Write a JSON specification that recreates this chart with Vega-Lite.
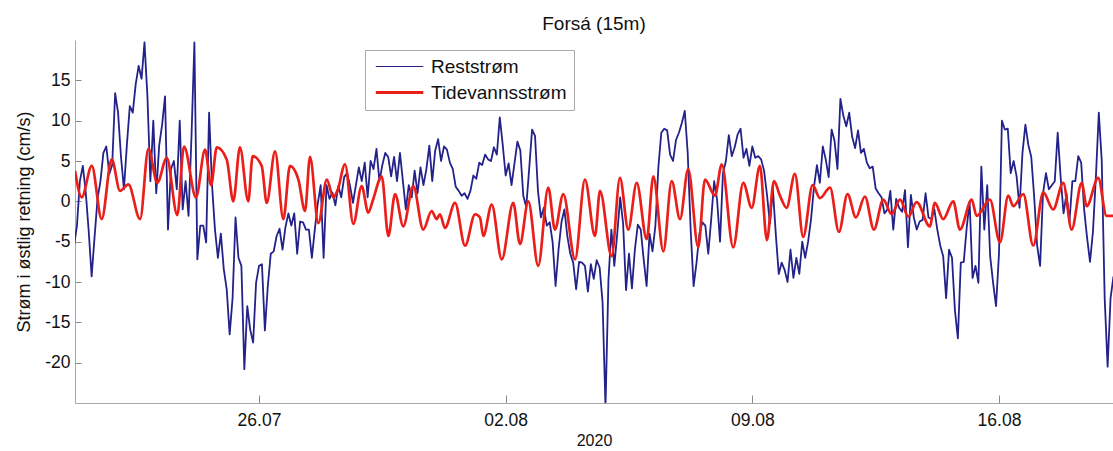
{
  "$schema": "https://vega.github.io/schema/vega-lite/v6.json",
  "width": 1038,
  "height": 363,
  "autosize": {"type": "none"},
  "padding": {"left": 75, "top": 40, "right": 0, "bottom": 48},
  "background": "white",
  "config": {"view": {"stroke": null}, "font": "Liberation Sans"},
  "title": {"text": "Forsá (15m)", "fontSize": 19, "fontWeight": "normal", "font": "Liberation Sans", "color": "#111", "anchor": "middle", "baseline": "alphabetic", "offset": 10, "dy": 19},
  "datasets": {
    "res": [
      {"t": "2020-07-20T18:00", "v": -5.5}, {"t": "2020-07-20T20:00", "v": -3}, {"t": "2020-07-20T22:00", "v": 2.5},
      {"t": "2020-07-21T00:00", "v": 4.4}, {"t": "2020-07-21T02:00", "v": 1.1}, {"t": "2020-07-21T04:00", "v": -3.7}, {"t": "2020-07-21T06:00", "v": -9.3}, {"t": "2020-07-21T08:00", "v": -4.4}, {"t": "2020-07-21T10:00", "v": 0.3}, {"t": "2020-07-21T12:00", "v": 2.5}, {"t": "2020-07-21T14:00", "v": 6.0}, {"t": "2020-07-21T16:00", "v": 6.8}, {"t": "2020-07-21T18:00", "v": 3.4}, {"t": "2020-07-21T20:00", "v": 4.5}, {"t": "2020-07-21T22:00", "v": 13.4},
      {"t": "2020-07-22T00:00", "v": 11.0}, {"t": "2020-07-22T02:00", "v": 5.5}, {"t": "2020-07-22T04:00", "v": 1.5}, {"t": "2020-07-22T06:00", "v": 7.0}, {"t": "2020-07-22T08:00", "v": 11.8}, {"t": "2020-07-22T10:00", "v": 11.0}, {"t": "2020-07-22T12:00", "v": 14.5}, {"t": "2020-07-22T14:00", "v": 16.8}, {"t": "2020-07-22T16:00", "v": 15.2}, {"t": "2020-07-22T18:00", "v": 19.7}, {"t": "2020-07-22T20:00", "v": 13.0}, {"t": "2020-07-22T22:00", "v": 2.5},
      {"t": "2020-07-23T00:00", "v": 10.0}, {"t": "2020-07-23T02:00", "v": 1.0}, {"t": "2020-07-23T04:00", "v": 6.9}, {"t": "2020-07-23T06:00", "v": 9.5}, {"t": "2020-07-23T08:00", "v": 13.0}, {"t": "2020-07-23T10:00", "v": -3.5}, {"t": "2020-07-23T12:00", "v": 4.0}, {"t": "2020-07-23T14:00", "v": 5.0}, {"t": "2020-07-23T16:00", "v": 1.5}, {"t": "2020-07-23T18:00", "v": 10.0}, {"t": "2020-07-23T20:00", "v": -1.0}, {"t": "2020-07-23T22:00", "v": 2.5},
      {"t": "2020-07-24T00:00", "v": -1.8}, {"t": "2020-07-24T02:00", "v": 8.0}, {"t": "2020-07-24T04:00", "v": 19.7}, {"t": "2020-07-24T06:00", "v": -7.2}, {"t": "2020-07-24T08:00", "v": -3.0}, {"t": "2020-07-24T10:00", "v": -3.0}, {"t": "2020-07-24T12:00", "v": -5.1}, {"t": "2020-07-24T14:00", "v": 11.0}, {"t": "2020-07-24T16:00", "v": 2.0}, {"t": "2020-07-24T18:00", "v": -3.5}, {"t": "2020-07-24T20:00", "v": -7.0}, {"t": "2020-07-24T22:00", "v": -4.0},
      {"t": "2020-07-25T00:00", "v": -8.4}, {"t": "2020-07-25T02:00", "v": -10.9}, {"t": "2020-07-25T04:00", "v": -16.5}, {"t": "2020-07-25T06:00", "v": -12.0}, {"t": "2020-07-25T08:00", "v": -2.0}, {"t": "2020-07-25T10:00", "v": -7.0}, {"t": "2020-07-25T12:00", "v": -8.0}, {"t": "2020-07-25T14:00", "v": -20.8}, {"t": "2020-07-25T16:00", "v": -13.0}, {"t": "2020-07-25T18:00", "v": -15.9}, {"t": "2020-07-25T20:00", "v": -17.5}, {"t": "2020-07-25T22:00", "v": -10.1},
      {"t": "2020-07-26T00:00", "v": -8.0}, {"t": "2020-07-26T02:00", "v": -7.8}, {"t": "2020-07-26T04:00", "v": -16.0}, {"t": "2020-07-26T06:00", "v": -10.5}, {"t": "2020-07-26T08:00", "v": -6.5}, {"t": "2020-07-26T10:00", "v": -6.2}, {"t": "2020-07-26T12:00", "v": -4.3}, {"t": "2020-07-26T14:00", "v": -3.4}, {"t": "2020-07-26T16:00", "v": -6.0}, {"t": "2020-07-26T18:00", "v": -3.2}, {"t": "2020-07-26T20:00", "v": -1.5}, {"t": "2020-07-26T22:00", "v": -3.0},
      {"t": "2020-07-27T00:00", "v": -1.5}, {"t": "2020-07-27T02:00", "v": -6.5}, {"t": "2020-07-27T04:00", "v": -2.5}, {"t": "2020-07-27T06:00", "v": -2.6}, {"t": "2020-07-27T08:00", "v": -3.5}, {"t": "2020-07-27T10:00", "v": -3.5}, {"t": "2020-07-27T12:00", "v": -7.0}, {"t": "2020-07-27T14:00", "v": -3.5}, {"t": "2020-07-27T16:00", "v": -0.3}, {"t": "2020-07-27T18:00", "v": 2.0}, {"t": "2020-07-27T20:00", "v": -7.0}, {"t": "2020-07-27T22:00", "v": 2.0},
      {"t": "2020-07-28T00:00", "v": 0.3}, {"t": "2020-07-28T02:00", "v": 1.1}, {"t": "2020-07-28T04:00", "v": -0.5}, {"t": "2020-07-28T06:00", "v": 1.9}, {"t": "2020-07-28T08:00", "v": 0.5}, {"t": "2020-07-28T10:00", "v": 3.0}, {"t": "2020-07-28T12:00", "v": 3.5}, {"t": "2020-07-28T14:00", "v": 1.9}, {"t": "2020-07-28T16:00", "v": -0.2}, {"t": "2020-07-28T18:00", "v": 2.0}, {"t": "2020-07-28T20:00", "v": 4.2}, {"t": "2020-07-28T22:00", "v": 2.5},
      {"t": "2020-07-29T00:00", "v": 4.8}, {"t": "2020-07-29T02:00", "v": 0.5}, {"t": "2020-07-29T04:00", "v": 5.0}, {"t": "2020-07-29T06:00", "v": 4.0}, {"t": "2020-07-29T08:00", "v": 6.5}, {"t": "2020-07-29T10:00", "v": 2.5}, {"t": "2020-07-29T12:00", "v": 4.5}, {"t": "2020-07-29T14:00", "v": 6.0}, {"t": "2020-07-29T16:00", "v": 5.5}, {"t": "2020-07-29T18:00", "v": 3.1}, {"t": "2020-07-29T20:00", "v": 5.5}, {"t": "2020-07-29T22:00", "v": 2.5},
      {"t": "2020-07-30T00:00", "v": 6.0}, {"t": "2020-07-30T02:00", "v": 2.5}, {"t": "2020-07-30T04:00", "v": -1.0}, {"t": "2020-07-30T06:00", "v": 2.0}, {"t": "2020-07-30T08:00", "v": 0.5}, {"t": "2020-07-30T10:00", "v": 3.8}, {"t": "2020-07-30T12:00", "v": 1.0}, {"t": "2020-07-30T14:00", "v": 4.2}, {"t": "2020-07-30T16:00", "v": 2.0}, {"t": "2020-07-30T18:00", "v": 4.0}, {"t": "2020-07-30T20:00", "v": 6.9}, {"t": "2020-07-30T22:00", "v": 2.5},
      {"t": "2020-07-31T00:00", "v": 6.3}, {"t": "2020-07-31T02:00", "v": 7.7}, {"t": "2020-07-31T04:00", "v": 5.0}, {"t": "2020-07-31T06:00", "v": 6.8}, {"t": "2020-07-31T08:00", "v": 6.4}, {"t": "2020-07-31T10:00", "v": 4.8}, {"t": "2020-07-31T12:00", "v": 4.0}, {"t": "2020-07-31T14:00", "v": 1.8}, {"t": "2020-07-31T16:00", "v": 1.3}, {"t": "2020-07-31T18:00", "v": 0.7}, {"t": "2020-07-31T20:00", "v": 1.0}, {"t": "2020-07-31T22:00", "v": 0.3},
      {"t": "2020-08-01T00:00", "v": 1.3}, {"t": "2020-08-01T02:00", "v": 3.2}, {"t": "2020-08-01T04:00", "v": 2.8}, {"t": "2020-08-01T06:00", "v": 4.8}, {"t": "2020-08-01T08:00", "v": 4.5}, {"t": "2020-08-01T10:00", "v": 5.8}, {"t": "2020-08-01T12:00", "v": 5.2}, {"t": "2020-08-01T14:00", "v": 5.0}, {"t": "2020-08-01T16:00", "v": 6.7}, {"t": "2020-08-01T18:00", "v": 5.8}, {"t": "2020-08-01T20:00", "v": 10.4}, {"t": "2020-08-01T22:00", "v": 7.0},
      {"t": "2020-08-02T00:00", "v": 3.2}, {"t": "2020-08-02T02:00", "v": 4.7}, {"t": "2020-08-02T04:00", "v": 2.0}, {"t": "2020-08-02T06:00", "v": 4.7}, {"t": "2020-08-02T08:00", "v": 7.4}, {"t": "2020-08-02T10:00", "v": 6.3}, {"t": "2020-08-02T12:00", "v": 0.7}, {"t": "2020-08-02T14:00", "v": -0.7}, {"t": "2020-08-02T16:00", "v": 4.0}, {"t": "2020-08-02T18:00", "v": 8.9}, {"t": "2020-08-02T20:00", "v": 8.1}, {"t": "2020-08-02T22:00", "v": 1.3},
      {"t": "2020-08-03T00:00", "v": -2.0}, {"t": "2020-08-03T02:00", "v": -0.8}, {"t": "2020-08-03T04:00", "v": -3.0}, {"t": "2020-08-03T06:00", "v": -2.6}, {"t": "2020-08-03T08:00", "v": -5.1}, {"t": "2020-08-03T10:00", "v": -10.5}, {"t": "2020-08-03T12:00", "v": -6.0}, {"t": "2020-08-03T14:00", "v": -2.6}, {"t": "2020-08-03T16:00", "v": -1.0}, {"t": "2020-08-03T18:00", "v": -4.3}, {"t": "2020-08-03T20:00", "v": -6.5}, {"t": "2020-08-03T22:00", "v": -7.6},
      {"t": "2020-08-04T00:00", "v": -10.9}, {"t": "2020-08-04T02:00", "v": -7.5}, {"t": "2020-08-04T04:00", "v": -7.6}, {"t": "2020-08-04T06:00", "v": -8.0}, {"t": "2020-08-04T08:00", "v": -11.2}, {"t": "2020-08-04T10:00", "v": -7.8}, {"t": "2020-08-04T12:00", "v": -9.6}, {"t": "2020-08-04T14:00", "v": -7.3}, {"t": "2020-08-04T16:00", "v": -8.2}, {"t": "2020-08-04T18:00", "v": -12.5}, {"t": "2020-08-04T20:00", "v": -25.5}, {"t": "2020-08-04T22:00", "v": -9.8},
      {"t": "2020-08-05T00:00", "v": -3.5}, {"t": "2020-08-05T02:00", "v": -8.0}, {"t": "2020-08-05T04:00", "v": -4.0}, {"t": "2020-08-05T06:00", "v": 0.5}, {"t": "2020-08-05T08:00", "v": -2.8}, {"t": "2020-08-05T10:00", "v": -11.0}, {"t": "2020-08-05T12:00", "v": -6.5}, {"t": "2020-08-05T14:00", "v": -10.8}, {"t": "2020-08-05T16:00", "v": -6.0}, {"t": "2020-08-05T18:00", "v": -2.9}, {"t": "2020-08-05T20:00", "v": -3.5}, {"t": "2020-08-05T22:00", "v": -7.2},
      {"t": "2020-08-06T00:00", "v": -10.5}, {"t": "2020-08-06T02:00", "v": -4.0}, {"t": "2020-08-06T04:00", "v": -6.2}, {"t": "2020-08-06T06:00", "v": -3.0}, {"t": "2020-08-06T08:00", "v": 4.2}, {"t": "2020-08-06T10:00", "v": 8.5}, {"t": "2020-08-06T12:00", "v": 9.0}, {"t": "2020-08-06T14:00", "v": 8.8}, {"t": "2020-08-06T16:00", "v": 5.8}, {"t": "2020-08-06T18:00", "v": 5.0}, {"t": "2020-08-06T20:00", "v": 7.6}, {"t": "2020-08-06T22:00", "v": 8.5},
      {"t": "2020-08-07T00:00", "v": 9.7}, {"t": "2020-08-07T02:00", "v": 11.2}, {"t": "2020-08-07T04:00", "v": 6.0}, {"t": "2020-08-07T06:00", "v": -3.5}, {"t": "2020-08-07T08:00", "v": -10.5}, {"t": "2020-08-07T10:00", "v": -7.6}, {"t": "2020-08-07T12:00", "v": -4.0}, {"t": "2020-08-07T14:00", "v": -2.6}, {"t": "2020-08-07T16:00", "v": -3.0}, {"t": "2020-08-07T18:00", "v": -6.5}, {"t": "2020-08-07T20:00", "v": -2.2}, {"t": "2020-08-07T22:00", "v": 2.5},
      {"t": "2020-08-08T00:00", "v": 0.2}, {"t": "2020-08-08T02:00", "v": -5.0}, {"t": "2020-08-08T04:00", "v": 3.5}, {"t": "2020-08-08T06:00", "v": 5.0}, {"t": "2020-08-08T08:00", "v": 8.2}, {"t": "2020-08-08T10:00", "v": 5.6}, {"t": "2020-08-08T12:00", "v": 6.7}, {"t": "2020-08-08T14:00", "v": 8.3}, {"t": "2020-08-08T16:00", "v": 9.0}, {"t": "2020-08-08T18:00", "v": 5.4}, {"t": "2020-08-08T20:00", "v": 6.5}, {"t": "2020-08-08T22:00", "v": 4.4},
      {"t": "2020-08-09T00:00", "v": 6.8}, {"t": "2020-08-09T02:00", "v": 5.4}, {"t": "2020-08-09T04:00", "v": 5.6}, {"t": "2020-08-09T06:00", "v": 5.2}, {"t": "2020-08-09T08:00", "v": 3.8}, {"t": "2020-08-09T10:00", "v": 0.8}, {"t": "2020-08-09T12:00", "v": -2.8}, {"t": "2020-08-09T14:00", "v": 1.5}, {"t": "2020-08-09T16:00", "v": -4.1}, {"t": "2020-08-09T18:00", "v": -9.0}, {"t": "2020-08-09T20:00", "v": -7.6}, {"t": "2020-08-09T22:00", "v": -8.5},
      {"t": "2020-08-10T00:00", "v": -10.0}, {"t": "2020-08-10T02:00", "v": -6.0}, {"t": "2020-08-10T04:00", "v": -9.5}, {"t": "2020-08-10T06:00", "v": -7.0}, {"t": "2020-08-10T08:00", "v": -9.0}, {"t": "2020-08-10T10:00", "v": -5.0}, {"t": "2020-08-10T12:00", "v": -7.0}, {"t": "2020-08-10T14:00", "v": -5.0}, {"t": "2020-08-10T16:00", "v": -2.2}, {"t": "2020-08-10T18:00", "v": 1.8}, {"t": "2020-08-10T20:00", "v": 4.5}, {"t": "2020-08-10T22:00", "v": 2.3},
      {"t": "2020-08-11T00:00", "v": 6.8}, {"t": "2020-08-11T02:00", "v": 5.2}, {"t": "2020-08-11T04:00", "v": 3.0}, {"t": "2020-08-11T06:00", "v": 8.9}, {"t": "2020-08-11T08:00", "v": 7.5}, {"t": "2020-08-11T10:00", "v": 4.0}, {"t": "2020-08-11T12:00", "v": 12.7}, {"t": "2020-08-11T14:00", "v": 10.6}, {"t": "2020-08-11T16:00", "v": 9.3}, {"t": "2020-08-11T18:00", "v": 11.0}, {"t": "2020-08-11T20:00", "v": 8.0}, {"t": "2020-08-11T22:00", "v": 6.6},
      {"t": "2020-08-12T00:00", "v": 8.8}, {"t": "2020-08-12T02:00", "v": 6.0}, {"t": "2020-08-12T04:00", "v": 6.5}, {"t": "2020-08-12T06:00", "v": 4.8}, {"t": "2020-08-12T08:00", "v": 4.1}, {"t": "2020-08-12T10:00", "v": 4.3}, {"t": "2020-08-12T12:00", "v": 1.6}, {"t": "2020-08-12T14:00", "v": 1.0}, {"t": "2020-08-12T16:00", "v": 0.5}, {"t": "2020-08-12T18:00", "v": -1.5}, {"t": "2020-08-12T20:00", "v": -1.0}, {"t": "2020-08-12T22:00", "v": 1.3},
      {"t": "2020-08-13T00:00", "v": -3.5}, {"t": "2020-08-13T02:00", "v": 0.3}, {"t": "2020-08-13T04:00", "v": -0.8}, {"t": "2020-08-13T06:00", "v": -1.3}, {"t": "2020-08-13T08:00", "v": 1.4}, {"t": "2020-08-13T10:00", "v": -5.7}, {"t": "2020-08-13T12:00", "v": 0.8}, {"t": "2020-08-13T14:00", "v": -2.0}, {"t": "2020-08-13T16:00", "v": -3.5}, {"t": "2020-08-13T18:00", "v": -2.5}, {"t": "2020-08-13T20:00", "v": -2.3}, {"t": "2020-08-13T22:00", "v": 1.0},
      {"t": "2020-08-14T00:00", "v": -2.0}, {"t": "2020-08-14T02:00", "v": -2.2}, {"t": "2020-08-14T04:00", "v": -1.0}, {"t": "2020-08-14T06:00", "v": -3.5}, {"t": "2020-08-14T08:00", "v": -5.5}, {"t": "2020-08-14T10:00", "v": -6.8}, {"t": "2020-08-14T12:00", "v": -12.0}, {"t": "2020-08-14T14:00", "v": -6.0}, {"t": "2020-08-14T16:00", "v": -7.0}, {"t": "2020-08-14T18:00", "v": -13.5}, {"t": "2020-08-14T20:00", "v": -17.0}, {"t": "2020-08-14T22:00", "v": -7.6},
      {"t": "2020-08-15T00:00", "v": -7.5}, {"t": "2020-08-15T02:00", "v": -3.3}, {"t": "2020-08-15T04:00", "v": 0.0}, {"t": "2020-08-15T06:00", "v": -9.5}, {"t": "2020-08-15T08:00", "v": -8.0}, {"t": "2020-08-15T10:00", "v": -10.1}, {"t": "2020-08-15T12:00", "v": 4.3}, {"t": "2020-08-15T14:00", "v": -3.5}, {"t": "2020-08-15T16:00", "v": 2.0}, {"t": "2020-08-15T18:00", "v": -6.8}, {"t": "2020-08-15T20:00", "v": -10.1}, {"t": "2020-08-15T22:00", "v": -13.0},
      {"t": "2020-08-16T00:00", "v": -6.5}, {"t": "2020-08-16T02:00", "v": 10.0}, {"t": "2020-08-16T04:00", "v": 8.9}, {"t": "2020-08-16T06:00", "v": 9.0}, {"t": "2020-08-16T08:00", "v": 3.5}, {"t": "2020-08-16T10:00", "v": 5.0}, {"t": "2020-08-16T12:00", "v": 3.1}, {"t": "2020-08-16T14:00", "v": -0.8}, {"t": "2020-08-16T16:00", "v": 6.0}, {"t": "2020-08-16T18:00", "v": 9.5}, {"t": "2020-08-16T20:00", "v": 7.0}, {"t": "2020-08-16T22:00", "v": 5.5},
      {"t": "2020-08-17T00:00", "v": 0.5}, {"t": "2020-08-17T02:00", "v": -5.5}, {"t": "2020-08-17T04:00", "v": -8.0}, {"t": "2020-08-17T06:00", "v": 1.0}, {"t": "2020-08-17T08:00", "v": 3.5}, {"t": "2020-08-17T10:00", "v": 1.5}, {"t": "2020-08-17T12:00", "v": 2.0}, {"t": "2020-08-17T14:00", "v": 2.5}, {"t": "2020-08-17T16:00", "v": 8.5}, {"t": "2020-08-17T18:00", "v": 3.0}, {"t": "2020-08-17T20:00", "v": -1.5}, {"t": "2020-08-17T22:00", "v": 1.0},
      {"t": "2020-08-18T00:00", "v": -2.5}, {"t": "2020-08-18T02:00", "v": 2.5}, {"t": "2020-08-18T04:00", "v": 2.5}, {"t": "2020-08-18T06:00", "v": 5.6}, {"t": "2020-08-18T08:00", "v": 4.8}, {"t": "2020-08-18T10:00", "v": -1.0}, {"t": "2020-08-18T12:00", "v": -4.5}, {"t": "2020-08-18T14:00", "v": -7.5}, {"t": "2020-08-18T16:00", "v": -3.8}, {"t": "2020-08-18T18:00", "v": 3.0}, {"t": "2020-08-18T20:00", "v": 11.0}, {"t": "2020-08-18T22:00", "v": 5.0},
      {"t": "2020-08-19T00:00", "v": -12.0}, {"t": "2020-08-19T02:00", "v": -20.5}, {"t": "2020-08-19T04:00", "v": -12.0}, {"t": "2020-08-19T06:00", "v": -9.3}
    ],
    "tide": [
      {"t": "2020-07-20T18:40", "v": 3.8}, {"t": "2020-07-20T23:15", "v": 0.5}, {"t": "2020-07-21T06:05", "v": 4.4}, {"t": "2020-07-21T12:50", "v": -2.2}, {"t": "2020-07-21T19:40", "v": 5.2},
      {"t": "2020-07-22T01:20", "v": 1.3}, {"t": "2020-07-22T07:00", "v": 2.1}, {"t": "2020-07-22T15:00", "v": -2.2}, {"t": "2020-07-22T20:40", "v": 6.5},
      {"t": "2020-07-23T02:45", "v": 2.3}, {"t": "2020-07-23T09:10", "v": 5.4}, {"t": "2020-07-23T16:20", "v": -1.7}, {"t": "2020-07-23T20:55", "v": 6.8},
      {"t": "2020-07-24T05:05", "v": 0.5}, {"t": "2020-07-24T11:15", "v": 6.4}, {"t": "2020-07-24T15:20", "v": 2.0}, {"t": "2020-07-24T19:15", "v": 6.7},
      {"t": "2020-07-25T02:00", "v": 5.2}, {"t": "2020-07-25T06:30", "v": 0.0}, {"t": "2020-07-25T11:00", "v": 6.7}, {"t": "2020-07-25T16:40", "v": 0.0}, {"t": "2020-07-25T19:40", "v": 5.6},
      {"t": "2020-07-26T01:50", "v": 4.4}, {"t": "2020-07-26T05:15", "v": -0.2}, {"t": "2020-07-26T10:55", "v": 6.2}, {"t": "2020-07-26T16:35", "v": -2.2}, {"t": "2020-07-26T21:05", "v": 4.4},
      {"t": "2020-07-27T02:50", "v": 2.7}, {"t": "2020-07-27T07:20", "v": -1.2}, {"t": "2020-07-27T10:45", "v": 5.5}, {"t": "2020-07-27T16:25", "v": -2.7}, {"t": "2020-07-27T22:10", "v": 2.7},
      {"t": "2020-07-28T02:35", "v": 0.5}, {"t": "2020-07-28T05:45", "v": 1.5}, {"t": "2020-07-28T10:35", "v": 4.6}, {"t": "2020-07-28T16:15", "v": -2.8}, {"t": "2020-07-28T21:55", "v": 1.9},
      {"t": "2020-07-29T02:25", "v": -1.4}, {"t": "2020-07-29T05:40", "v": 0.2}, {"t": "2020-07-29T11:35", "v": 3.1}, {"t": "2020-07-29T16:05", "v": -4.3}, {"t": "2020-07-29T20:40", "v": 0.9},
      {"t": "2020-07-30T02:15", "v": -3.1}, {"t": "2020-07-30T09:05", "v": 1.9}, {"t": "2020-07-30T15:50", "v": -3.5}, {"t": "2020-07-30T21:35", "v": -1.2},
      {"t": "2020-07-31T01:00", "v": -2.2}, {"t": "2020-07-31T03:15", "v": -1.6}, {"t": "2020-07-31T06:40", "v": -3.3}, {"t": "2020-07-31T13:30", "v": -0.2}, {"t": "2020-07-31T20:20", "v": -5.5},
      {"t": "2020-08-01T03:10", "v": -1.6}, {"t": "2020-08-01T06:30", "v": -2.0}, {"t": "2020-08-01T08:45", "v": -4.3}, {"t": "2020-08-01T14:30", "v": -0.4}, {"t": "2020-08-01T21:20", "v": -7.2},
      {"t": "2020-08-02T05:10", "v": -0.2}, {"t": "2020-08-02T09:45", "v": -5.3}, {"t": "2020-08-02T15:25", "v": 0.0}, {"t": "2020-08-02T22:10", "v": -8.0},
      {"t": "2020-08-03T05:00", "v": 1.7}, {"t": "2020-08-03T09:35", "v": -3.5}, {"t": "2020-08-03T15:15", "v": 0.9}, {"t": "2020-08-03T23:15", "v": -7.2},
      {"t": "2020-08-04T06:00", "v": 2.7}, {"t": "2020-08-04T12:50", "v": -4.3}, {"t": "2020-08-04T16:15", "v": 1.3},
      {"t": "2020-08-05T00:10", "v": -6.8}, {"t": "2020-08-05T05:50", "v": 2.9}, {"t": "2020-08-05T11:30", "v": -3.5}, {"t": "2020-08-05T17:15", "v": 2.3},
      {"t": "2020-08-06T00:05", "v": -4.7}, {"t": "2020-08-06T04:35", "v": 3.1}, {"t": "2020-08-06T11:25", "v": -6.2}, {"t": "2020-08-06T17:05", "v": 2.5}, {"t": "2020-08-06T22:45", "v": -2.2},
      {"t": "2020-08-07T04:20", "v": 4.0}, {"t": "2020-08-07T11:10", "v": -5.7}, {"t": "2020-08-07T15:45", "v": 2.7}, {"t": "2020-08-07T22:35", "v": 0.7},
      {"t": "2020-08-08T03:10", "v": 4.6}, {"t": "2020-08-08T11:00", "v": -5.7}, {"t": "2020-08-08T17:50", "v": 2.3}, {"t": "2020-08-08T23:35", "v": -0.8},
      {"t": "2020-08-09T05:10", "v": 4.4}, {"t": "2020-08-09T09:55", "v": -4.8}, {"t": "2020-08-09T14:45", "v": 2.5}, {"t": "2020-08-09T18:50", "v": 0.7}, {"t": "2020-08-09T23:20", "v": -0.8},
      {"t": "2020-08-10T05:00", "v": 3.4}, {"t": "2020-08-10T10:40", "v": -4.4}, {"t": "2020-08-10T17:05", "v": 2.0}, {"t": "2020-08-10T22:05", "v": 0.4},
      {"t": "2020-08-11T04:55", "v": 1.7}, {"t": "2020-08-11T11:00", "v": -3.8}, {"t": "2020-08-11T16:50", "v": 0.9}, {"t": "2020-08-11T22:35", "v": -2.0},
      {"t": "2020-08-12T04:40", "v": 0.6}, {"t": "2020-08-12T10:50", "v": -3.5}, {"t": "2020-08-12T17:10", "v": 0.2}, {"t": "2020-08-12T22:55", "v": -1.6},
      {"t": "2020-08-13T04:35", "v": 0.2}, {"t": "2020-08-13T10:15", "v": -1.9}, {"t": "2020-08-13T15:55", "v": -0.1},
      {"t": "2020-08-14T00:55", "v": -3.1}, {"t": "2020-08-14T04:20", "v": -0.2}, {"t": "2020-08-14T10:00", "v": -2.2}, {"t": "2020-08-14T16:50", "v": 0.0}, {"t": "2020-08-14T21:25", "v": -3.5},
      {"t": "2020-08-15T05:25", "v": 0.2}, {"t": "2020-08-15T08:45", "v": -1.8}, {"t": "2020-08-15T17:50", "v": 0.2},
      {"t": "2020-08-16T00:40", "v": -5.1}, {"t": "2020-08-16T06:20", "v": 0.7}, {"t": "2020-08-16T09:45", "v": -0.6}, {"t": "2020-08-16T16:35", "v": 0.9}, {"t": "2020-08-16T23:20", "v": -5.5},
      {"t": "2020-08-17T06:10", "v": 1.1}, {"t": "2020-08-17T12:55", "v": -1.0}, {"t": "2020-08-17T19:45", "v": 2.3},
      {"t": "2020-08-18T01:30", "v": -3.5}, {"t": "2020-08-18T08:20", "v": 2.3}, {"t": "2020-08-18T11:45", "v": -0.6}, {"t": "2020-08-18T19:35", "v": 2.9},
      {"t": "2020-08-19T01:15", "v": -1.8}, {"t": "2020-08-19T06:00", "v": -1.8}
    ]
  },
  "encoding": {
    "x": {
      "field": "t", "type": "temporal",
      "scale": {"domain": [{"year": 2020, "month": 7, "date": 20, "hours": 18, "minutes": 40}, {"year": 2020, "month": 8, "date": 19, "hours": 5, "minutes": 40}]},
      "axis": {
        "values": [{"year": 2020, "month": 7, "date": 26}, {"year": 2020, "month": 8, "date": 2}, {"year": 2020, "month": 8, "date": 9}, {"year": 2020, "month": 8, "date": 16}],
        "format": "%d.%m", "title": "2020", "grid": false,
        "domainColor": "#a8a8a8", "tickColor": "#8a8a8a", "tickSize": -8,
        "labelFontSize": 17.5, "labelColor": "#111", "labelPadding": 16, "labelFont": "Liberation Sans",
        "titleFontSize": 16, "titleFontWeight": "normal", "titleColor": "#111", "titlePadding": 4, "titleFont": "Liberation Sans"
      }
    },
    "y": {
      "field": "v", "type": "quantitative",
      "scale": {"domain": [-25, 20], "nice": false, "zero": false},
      "axis": {
        "values": [-20, -15, -10, -5, 0, 5, 10, 15],
        "labelExpr": "'' + datum.value",
        "title": "Strøm i østlig retning (cm/s)", "grid": false,
        "domainColor": "#a8a8a8", "tickColor": "#8a8a8a", "tickSize": -6,
        "labelFontSize": 17.5, "labelColor": "#111", "labelPadding": 11, "labelFont": "Liberation Sans",
        "titleFontSize": 18, "titleFontWeight": "normal", "titleColor": "#111", "titlePadding": 11, "titleFont": "Liberation Sans"
      }
    }
  },
  "layer": [
    {
      "data": {"name": "res"},
      "mark": {"type": "line", "clip": true, "strokeJoin": "round", "strokeWidth": 1.8},
      "encoding": {
        "color": {"datum": "Reststrøm", "scale": {"domain": ["Reststrøm", "Tidevannsstrøm"], "range": ["#22228a", "#ea1f1a"]},
          "legend": {"orient": "none", "legendX": 290, "legendY": 10, "title": null, "symbolType": "M-0.6,0H4.4", "symbolSize": 361, "labelFontSize": 19, "labelFont": "Liberation Sans", "labelColor": "#111", "padding": 7, "rowPadding": 6, "strokeColor": "#aaaaaa", "fillColor": "white", "labelOffset": 40,
            "encode": {"symbols": {"update": {"strokeWidth": {"signal": "datum.value === 'Reststrøm' ? 1.2 : 3"}}}}}}
      }
    },
    {
      "data": {"name": "tide"},
      "mark": {"type": "line", "clip": true, "interpolate": "monotone", "strokeWidth": 2.7},
      "encoding": {
        "color": {"datum": "Tidevannsstrøm"}
      }
    }
  ]
}
